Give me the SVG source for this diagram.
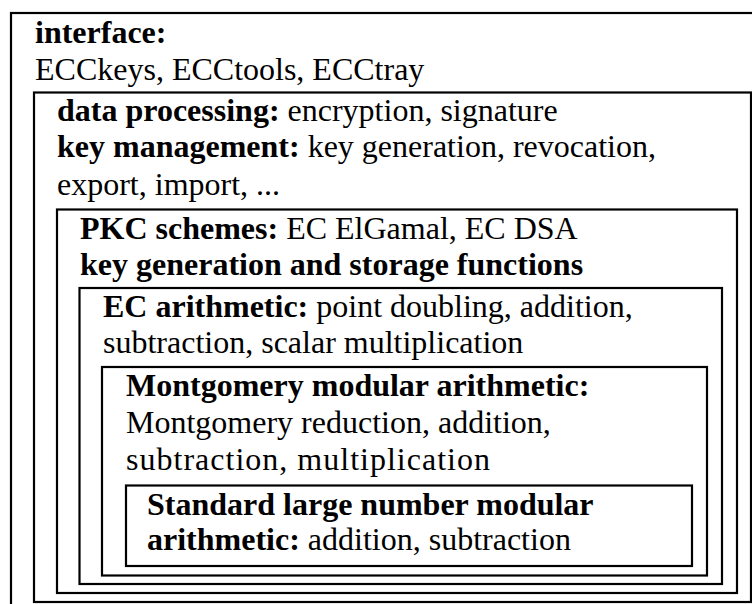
<svg xmlns="http://www.w3.org/2000/svg" width="752" height="604" viewBox="0 0 752 604">
<style>
.box{fill:none;stroke:#000;stroke-width:2.2}
text{font-family:"Liberation Serif","Times New Roman",serif;font-size:32px;fill:#000}
.b{font-weight:bold}
</style>
<rect x="0" y="0" width="752" height="604" fill="#fff"/>
<g id="interface">
<rect class="box" x="11" y="13" width="800" height="700"/>
<text x="35" y="42.5"><tspan class="b">interface:</tspan></text>
<text x="35" y="80">ECCkeys, ECCtools, ECCtray</text>
</g>
<g id="data-processing">
<rect class="box" x="34" y="92.5" width="717" height="509.5"/>
<text x="57" y="120.5"><tspan class="b">data processing:</tspan> encryption, signature</text>
<text x="57" y="157"><tspan class="b">key management:</tspan> key generation, revocation,</text>
<text x="57" y="194.5">export, import, ...</text>
</g>
<g id="pkc-schemes">
<rect class="box" x="57" y="209.5" width="680" height="383.5"/>
<text x="80" y="238.5"><tspan class="b">PKC schemes:</tspan> EC ElGamal, EC DSA</text>
<text x="80" y="274.5"><tspan class="b">key generation and storage functions</tspan></text>
</g>
<g id="ec-arithmetic">
<rect class="box" x="79.5" y="288" width="642.5" height="296"/>
<text x="103" y="317"><tspan class="b">EC arithmetic:</tspan> point doubling, addition,</text>
<text x="103" y="353">subtraction, scalar multiplication</text>
</g>
<g id="montgomery">
<rect class="box" x="102" y="367" width="605" height="208.5"/>
<text x="126" y="396"><tspan class="b">Montgomery modular arithmetic:</tspan></text>
<text x="126" y="433">Montgomery reduction, addition,</text>
<text x="126" y="470" textLength="364" lengthAdjust="spacing">subtraction, multiplication</text>
</g>
<g id="standard">
<rect class="box" x="126" y="485.5" width="566" height="80.5"/>
<text x="147" y="514.5"><tspan class="b">Standard large number modular</tspan></text>
<text x="147" y="550"><tspan class="b">arithmetic:</tspan> addition, subtraction</text>
</g>
<g id="connectors"/>
</svg>
